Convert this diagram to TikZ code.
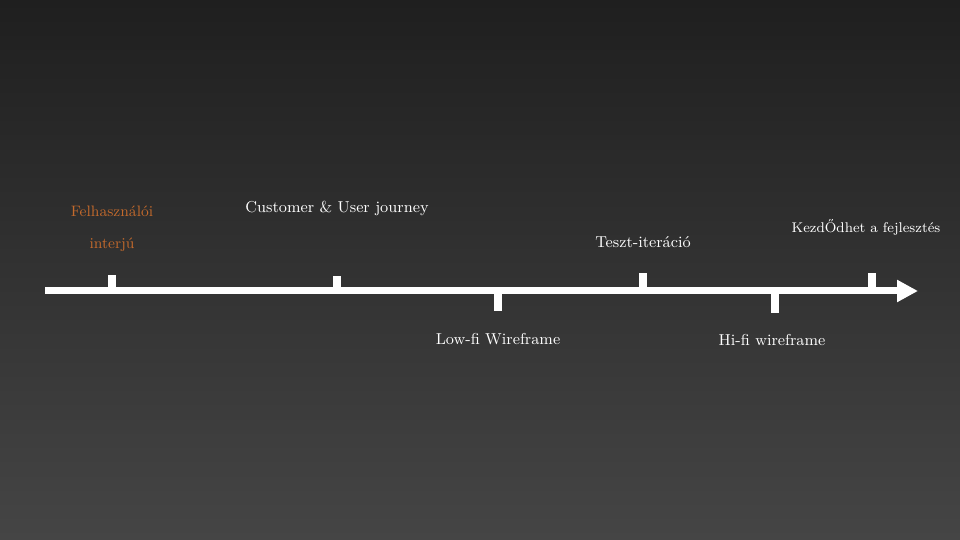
\documentclass[tikz,border=0pt]{standalone}
\usepackage{tikz}
\usepackage{xcolor}
\usetikzlibrary{positioning,arrows.meta}
\definecolor{FondHaut}{HTML}{1F1F1F}
\definecolor{FondBas}{HTML}{454545}
\definecolor{Orange}{HTML}{C46A2C}
\tikzset{
Axe/.style={
 draw=white, 
 line width=0.14cm, 
 -{Triangle[length=0.42cm,width=0.42cm]}
 },
CranHaut/.style={
 fill=white, 
 inner sep=0pt, 
 minimum width=0.16cm, 
 minimum height=#1, 
 anchor=south
 },
CranBas/.style={
 fill=white, 
 inner sep=0pt, 
 minimum width=0.16cm, 
 minimum height=#1, 
 anchor=north
 },
Etiquette/.style={
 text=white, 
 font=\fontsize{9}{11}\selectfont, 
 inner sep=1pt
 }
}
\begin{document}
\begin{tikzpicture}
\useasboundingbox (0,0) rectangle (19.2,10.8);
\shade[top color=FondHaut, bottom color=FondBas] (0,0) rectangle (19.2,10.8);
\coordinate (debut) at (0.9,4.98);
\coordinate (fin) at (18.36,4.98);
\draw[Axe] (debut) -- (fin);
\node[CranHaut=0.32cm] (interview) at (2.24,4.98) {};
\node[CranHaut=0.30cm] (journey) at (6.74,4.98) {};
\node[CranBas=0.40cm] (lowfi) at (9.96,4.98) {};
\node[CranHaut=0.36cm] (teszt) at (12.86,4.98) {};
\node[CranBas=0.44cm] (hifi) at (15.50,4.98) {};
\node[CranHaut=0.36cm] (fejlesztes) at (17.44,4.98) {};
\node[Etiquette, text=Orange, align=center, font=\fontsize{8.6}{18.7}\selectfont, above=0.91cm of interview, anchor=center] (Linterview) {Felhasználói\\interjú};
\node[Etiquette, above=1.34cm of journey, anchor=center] (Ljourney) {Customer \& User journey};
\node[Etiquette, below=0.54cm of lowfi, anchor=center] (Llowfi) {Low-fi Wireframe};
\node[Etiquette, above=0.60cm of teszt, anchor=center] (Lteszt) {Teszt-iteráció};
\node[Etiquette, font=\fontsize{8}{10}\selectfont, above=0.90cm of fejlesztes, anchor=center, xshift=-0.12cm] (Lfejlesztes) {KezdŐdhet a fejlesztés};
\node[Etiquette, below=0.52cm of hifi, anchor=center, xshift=-0.06cm] (Lhifi) {Hi-fi wireframe};
\end{tikzpicture}
\end{document}
